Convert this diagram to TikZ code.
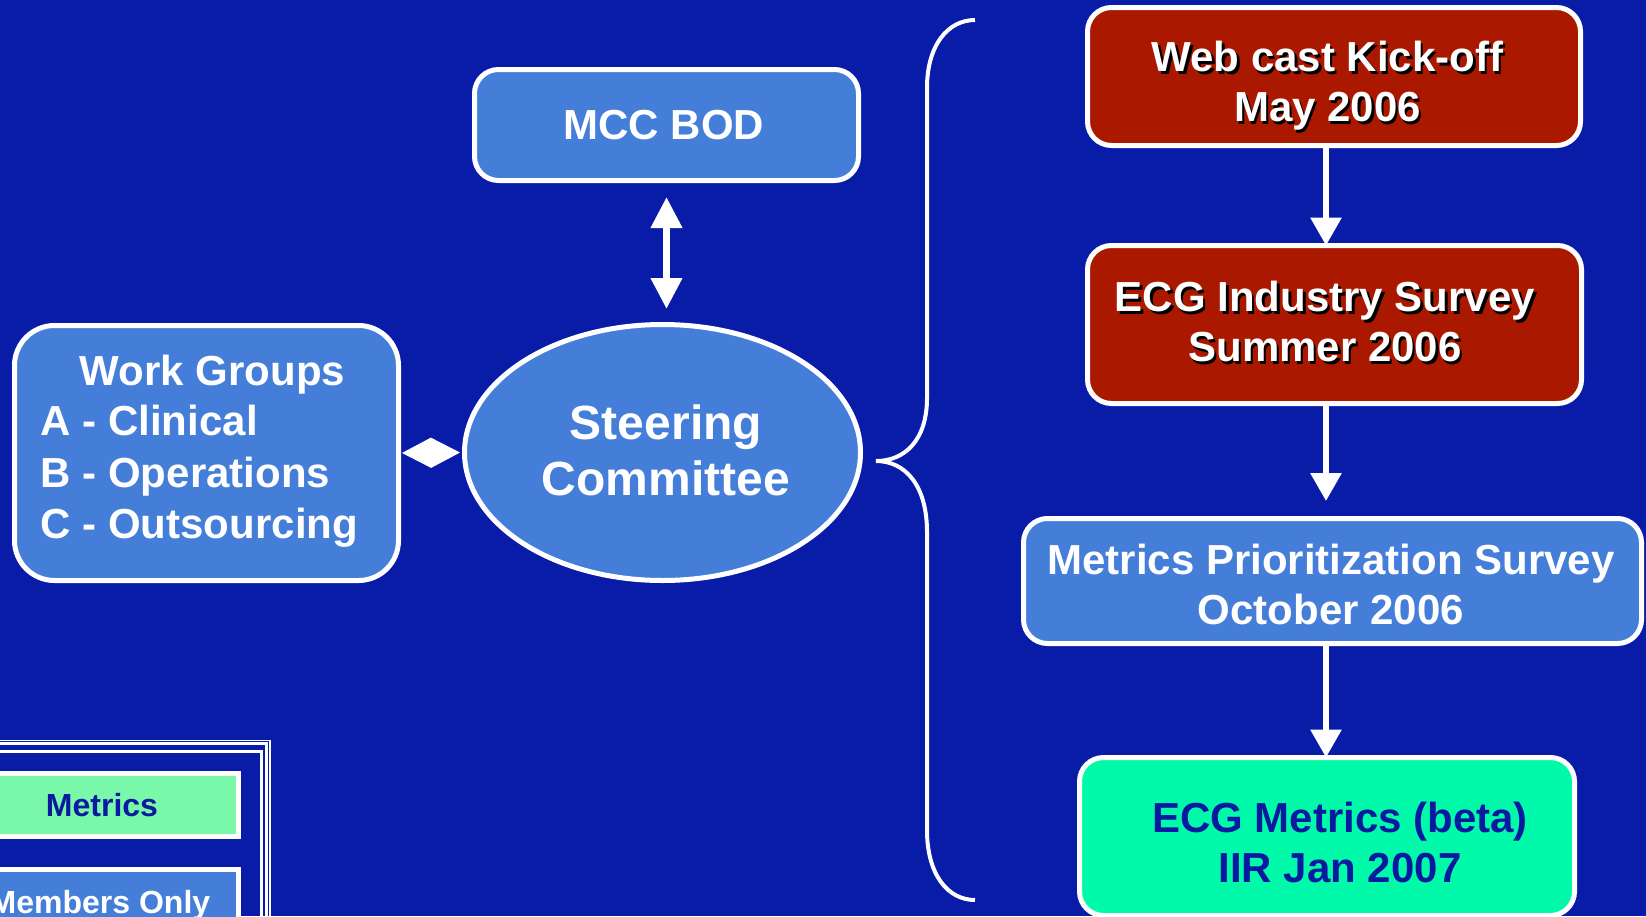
\documentclass[tikz,border=0pt]{standalone}
\usepackage{fontspec}
\setmainfont{Liberation Sans}
\usetikzlibrary{arrows.meta,shapes.geometric}
\definecolor{bgblue}{RGB}{8,28,168}
\definecolor{lightblue}{RGB}{68,126,216}
\definecolor{boxred}{RGB}{170,24,0}
\definecolor{boxgreen}{RGB}{0,250,170}
\definecolor{legendgreen}{RGB}{120,248,168}
\definecolor{darktext}{RGB}{10,26,160}
\newcommand\shd[1]{\makebox[0pt][l]{\kern2.5pt\raisebox{-2.5pt}{\color{black}#1}}#1}
\tikzset{
  box/.style={draw=white, line width=5pt, rounded corners=24pt, fill=lightblue, inner sep=0pt, outer sep=0pt},
  lbl/.style={text=white, font=\bfseries\fontsize{42}{50}\selectfont, align=center, anchor=base, inner sep=0pt},
  conn/.style={draw=white, line width=6pt, -{Triangle[width=30pt,length=28pt]}},
  legbox/.style={draw=white, line width=5pt, inner sep=0pt, outer sep=0pt},
}
\begin{document}
\begin{tikzpicture}[x=1pt,y=-1pt]
\fill[bgblue] (0,0) rectangle (1646,916);
\useasboundingbox (0,0) rectangle (1646,916);

% left part
\node[box, minimum width=384pt, minimum height=111pt] (mcc) at (666.5,125) {};
\node[lbl] (mcct) at (664,139) {MCC BOD};

\node[box, rounded corners=40pt, minimum width=384pt, minimum height=255pt] (wg) at (206.5,453) {};
\node[lbl] (wgt) at (212.5,385) {Work Groups};
\node[lbl, anchor=base west, align=left, font=\bfseries\fontsize{42}{51.5}\selectfont] (wgl) at (40.5,538.5) {A - Clinical\\B - Operations\\C - Outsourcing};

\node[ellipse, draw=white, line width=5pt, fill=lightblue, inner sep=0pt, outer sep=0pt, minimum width=396pt, minimum height=256pt] (steer) at (662.5,452.5) {};
\node[lbl, font=\bfseries\fontsize{48}{56}\selectfont] (steert) at (666,495) {Steering\\Committee};

\draw[white, line width=7pt, {Triangle[width=30pt,length=31pt]}-{Triangle[width=30pt,length=31pt]}, shorten <=16.5pt, shorten >=15.5pt]
  (mcc.south) -- (mcc.south |- steer.north);
\draw[white, line width=1pt, {Triangle[width=30pt,length=29pt]}-{Triangle[width=30pt,length=29pt]}, shorten <=3.5pt, shorten >=4.5pt]
  (wg.east) -- (steer.west);

% brace
\draw[white, line width=4pt] (975,20) .. controls (948,20) and (927,45) .. (927,88) -- (927,398)
  .. controls (927,440) and (905,461) .. (876,461)
  .. controls (905,461) and (927,485) .. (927,532) -- (927,830)
  .. controls (927,875) and (948,900) .. (975,900);

% right column
\node[box, fill=boxred, minimum width=493pt, minimum height=138pt] (webcast) at (1334,76.5) {};
\node[lbl] (webcastt) at (1327.5,121.7) {\shd{Web cast Kick-off}\\\shd{May 2006}};

\node[box, fill=boxred, minimum width=494pt, minimum height=158pt] (industry) at (1334.5,324.5) {};
\node[lbl] (industryt) at (1325,361.7) {\shd{ECG Industry Survey}\\\shd{Summer 2006}};

\node[box, minimum width=618pt, minimum height=125pt] (prio) at (1332.5,581) {};
\node[lbl] (priot) at (1331,624) {Metrics Prioritization Survey\\October 2006};

\node[box, fill=boxgreen, minimum width=495pt, minimum height=158pt] (ecgm) at (1327,836.5) {};
\node[lbl, text=darktext] (ecgmt) at (1340,882) {ECG Metrics (beta)\\IIR Jan 2007};

\coordinate (ax) at (1326,0);
\draw[conn] (ax |- webcast.south) -- (ax |- industry.north);
\draw[conn, shorten >=17.5pt] (ax |- industry.south) -- (ax |- prio.north);
\draw[conn] (ax |- prio.south) -- (ax |- ecgm.north);

% legend
\draw[white, line width=1.5pt] (-10,740.7) -| (270.2,930);
\draw[white, line width=2.7pt] (-10,743.7) -| (266.3,930);
\draw[white, line width=3pt] (-10,751.7) -| (261,930);
\node[legbox, fill=legendgreen, minimum width=248.5pt, minimum height=63pt] (legm) at (114.25,805) {};
\node[anchor=base, inner sep=0pt, text=darktext, font=\bfseries\fontsize{32}{38}\selectfont] (legmt) at (102,816.7) {Metrics};
\node[legbox, fill=lightblue, minimum width=248.5pt, minimum height=90.5pt] (legmo) at (114.25,914.75) {};
\node[anchor=base, inner sep=0pt, text=white, font=\bfseries\fontsize{32}{38}\selectfont] (legmot) at (100,913) {Members Only};
\end{tikzpicture}
\end{document}
